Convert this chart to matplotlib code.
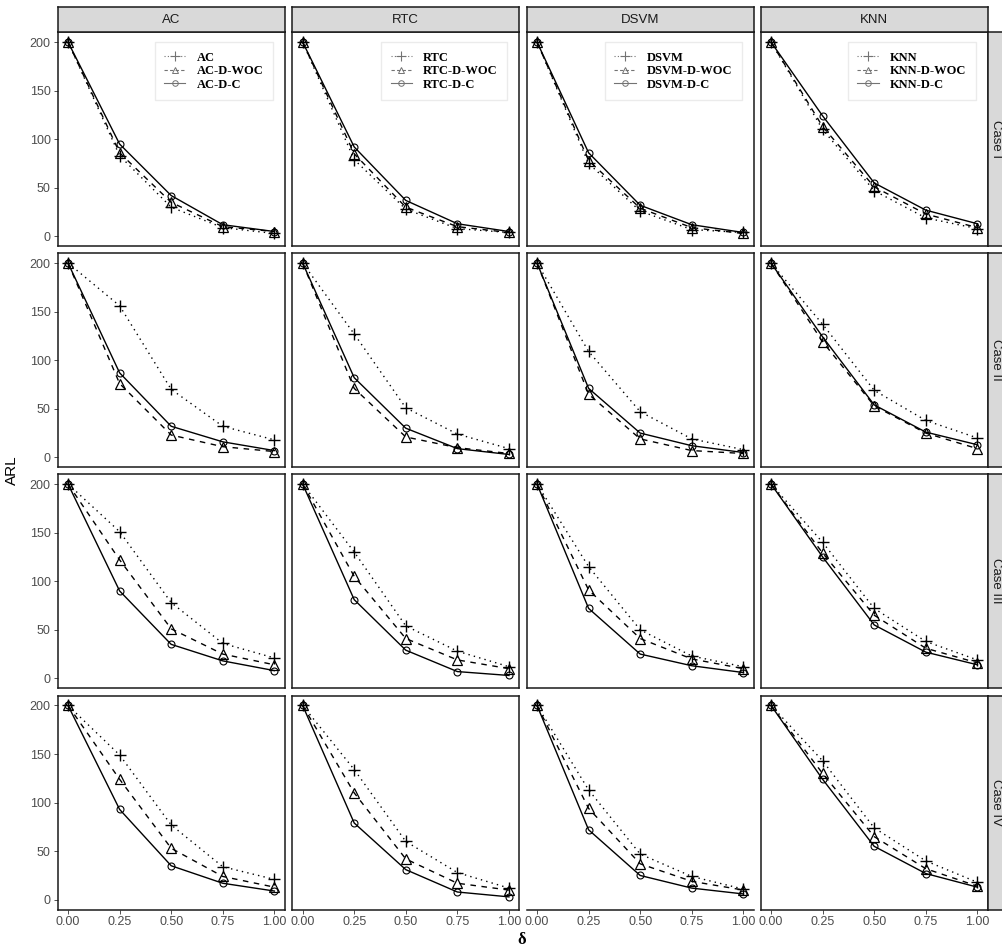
import numpy as np
import matplotlib
matplotlib.use("Agg")
import matplotlib.pyplot as plt
from matplotlib.lines import Line2D

delta = [0.0, 0.25, 0.5, 0.75, 1.0]
models = ["AC", "RTC", "DSVM", "KNN"]
cases = ["Case I", "Case II", "Case III", "Case IV"]

# rows: AC, RTC, DSVM, KNN
case1_base = [[200, 83, 30, 9, 3], [200, 79, 28, 8, 4], [200, 75, 26, 7, 4], [200, 110, 47, 19, 8]]
case1_woc = [[200, 86, 35, 10, 5], [200, 85, 30, 10, 4], [200, 78, 29, 9, 3], [200, 113, 51, 23, 9]]
case1_dc = [[200, 95, 42, 12, 5], [200, 92, 37, 13, 5], [200, 86, 32, 12, 4], [200, 124, 55, 27, 13]]

case2_base = [[200, 156, 70, 32, 18], [200, 127, 51, 24, 9], [200, 109, 47, 19, 8], [200, 137, 69, 38, 20]]
case2_woc = [[200, 76, 23, 11, 6], [200, 71, 21, 10, 4], [200, 65, 19, 7, 4], [200, 119, 53, 25, 9]]
case2_dc = [[200, 87, 32, 16, 7], [200, 82, 30, 9, 3], [200, 71, 25, 12, 5], [200, 124, 54, 26, 13]]

case3_base = [[200, 151, 78, 36, 21], [200, 130, 54, 28, 12], [200, 115, 50, 23, 12], [200, 140, 72, 38, 19]]
case3_woc = [[200, 122, 51, 25, 14], [200, 105, 41, 19, 10], [200, 91, 41, 20, 10], [200, 129, 65, 31, 16]]
case3_dc = [[200, 90, 35, 18, 8], [200, 81, 29, 7, 3], [200, 72, 25, 13, 6], [200, 125, 55, 27, 14]]

case4_base = [[200, 149, 77, 34, 21], [200, 134, 60, 28, 12], [200, 113, 47, 24, 11], [200, 143, 74, 40, 18]]
case4_woc = [[200, 124, 53, 24, 13], [200, 110, 42, 17, 10], [200, 94, 37, 19, 10], [200, 130, 65, 32, 14]]
case4_dc = [[200, 93, 35, 17, 9], [200, 79, 31, 8, 3], [200, 72, 25, 12, 6], [200, 124, 55, 27, 13]]

base_by_case = [case1_base, case2_base, case3_base, case4_base]
woc_by_case = [case1_woc, case2_woc, case3_woc, case4_woc]
dc_by_case = [case1_dc, case2_dc, case3_dc, case4_dc]

W, H = 1003, 951
col_left = [57.7, 292.3, 526.7, 760.7]
row_top = [32.3, 253.3, 474.3, 695.7]
pw, ph = 227.0, 213.8

fig = plt.figure(figsize=(W / 100, H / 100), dpi=100)
SANS = ["Liberation Sans", "DejaVu Sans"]
SERIF = ["Liberation Serif", "DejaVu Serif"]
tick_col = "#4d4d4d"


def px_axes(x, y, w, h):
    return fig.add_axes([x / W, 1 - (y + h) / H, w / W, h / H])


for r in range(4):
    for c in range(4):
        ax = px_axes(col_left[c], row_top[r], pw, ph)
        ax.plot(delta, dc_by_case[r][c], color="black", lw=1.0, ls="-",
                marker="o", ms=5, mfc="none", mec="black", mew=0.8)
        ax.plot(delta, woc_by_case[r][c], color="black", lw=1.0, ls=(0, (4, 4)),
                marker="^", ms=7, mfc="none", mec="black", mew=0.9)
        ax.plot(delta, base_by_case[r][c], color="black", lw=1.0, ls=(0, (1, 3)),
                marker="+", ms=9, mec="black", mew=1.0)
        ax.set_xlim(-0.05, 1.05)
        ax.set_ylim(-10, 210)
        ax.set_xticks(delta)
        ax.set_yticks([0, 50, 100, 150, 200])
        ax.tick_params(length=3, width=0.6, color="#333333", labelcolor=tick_col,
                       labelsize=9, pad=2)
        if c == 0:
            ax.set_yticklabels(["0", "50", "100", "150", "200"], family=SANS)
        else:
            ax.tick_params(axis="y", left=False, labelleft=False)
        if r == 3:
            ax.set_xticklabels(["0.00", "0.25", "0.50", "0.75", "1.00"], family=SANS)
        else:
            ax.tick_params(axis="x", bottom=False, labelbottom=False)
        for s in ax.spines.values():
            s.set_linewidth(1.1)
            s.set_color("#1a1a1a")
        if r == 3 and c == 2:
            for side in ("top", "left", "right"):
                ax.spines[side].set_visible(False)

        if r == 0:
            m = models[c]
            handles = [
                Line2D([], [], color="0.45", lw=0.8, ls=(0, (1, 2)), marker="+", ms=7, mew=0.8),
                Line2D([], [], color="0.45", lw=0.8, ls=(0, (3, 2)), marker="^", ms=5,
                       mfc="none", mew=0.7),
                Line2D([], [], color="0.45", lw=0.8, ls="-", marker="o", ms=4,
                       mfc="none", mew=0.7),
            ]
            leg = ax.legend(handles, [m, m + "-D-WOC", m + "-D-C"], loc="upper right",
                            bbox_to_anchor=(0.947, 0.953), borderaxespad=0,
                            frameon=True, fancybox=False,
                            handlelength=1.7, handletextpad=0.9, borderpad=0.75,
                            labelspacing=0.12,
                            prop={"family": SERIF, "weight": "bold", "size": 9})
            leg.get_frame().set_edgecolor("#e6e6e6")
            leg.get_frame().set_linewidth(1.0)

        # top strips
        if r == 0:
            sax = px_axes(col_left[c], 7.3, pw, row_top[0] - 7.3)
            sax.set_facecolor("#d9d9d9")
            sax.set_xticks([]); sax.set_yticks([])
            for s in sax.spines.values():
                s.set_linewidth(1.1)
                s.set_color("#1a1a1a")
            sax.text(0.5, 0.5, models[c], ha="center", va="center", fontsize=9.5,
                     family=SANS, color="#1a1a1a", transform=sax.transAxes)

        # right strips
        if c == 3:
            rax = px_axes(col_left[3] + pw, row_top[r], 20, ph)
            rax.set_facecolor("#d9d9d9")
            rax.set_xticks([]); rax.set_yticks([])
            for s in rax.spines.values():
                s.set_linewidth(1.1)
                s.set_color("#1a1a1a")
            fig.text((col_left[3] + pw + 8.5) / W, 1 - (row_top[r] + ph / 2) / H, cases[r],
                     rotation=270, ha="center", va="center", fontsize=9.5,
                     family=SANS, color="#1a1a1a")

fig.text(12 / W, 1 - 470 / H, "ARL", rotation=90, ha="center", va="center",
         fontsize=11, family=SANS)
fig.text(522 / W, 1 - 940 / H, "δ", ha="center", va="center", fontsize=12,
         family=SERIF, weight="bold")

fig.savefig("out.png", dpi=100)
